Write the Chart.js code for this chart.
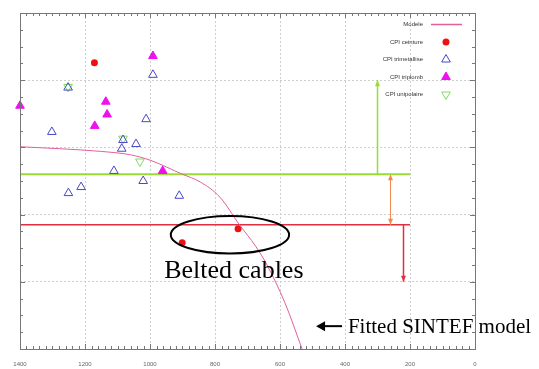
<!DOCTYPE html>
<html>
<head>
<meta charset="utf-8">
<script src="https://cdn.jsdelivr.net/npm/chart.js@4.4.1/dist/chart.umd.min.js"></script>
<style>
  html, body { margin: 0; padding: 0; background: #fff; }
  #wrap { width: 539px; height: 369px; }
</style>
</head>
<body>
<div id="wrap"><canvas id="c" width="539" height="369"></canvas></div>
<script>
// x axis runs from 1400 (left) down to 0 (right)
const xTickValues = [1400, 1200, 1000, 800, 600, 400, 200, 0];
const xTickLabels = ['1400', '1200', '1000', '800', '600', '400', '200', '0'];

// Fitted model curve
const modeleX = [1400, 1275, 1150, 1060, 1000, 900, 845, 785, 725, 675, 640, 585, 532];
const modeleY = [30.1, 29.8, 29.4, 28.9, 28.1, 26.0, 24.85, 22.6, 18.5, 15.3, 12.5, 6.9, 0];

// Measured cable types
const ceintureX = [1171, 729, 901];
const ceintureY = [42.6, 17.9, 15.8];

const trimetX = [991, 1252, 1012, 1302, 1083, 1087, 1043, 1111, 1021, 1212, 1251, 910];
const trimetY = [40.8, 38.9, 34.2, 32.3, 31.1, 29.8, 30.5, 26.5, 25.0, 24.1, 23.2, 22.8];

const triplombX = [1400, 991, 1136, 1132, 1170, 961];
const triplombY = [36.2, 43.6, 36.8, 34.9, 33.2, 26.5];

const unipolX = [1252, 1083, 1031];
const unipolY = [39.0, 31.3, 27.9];

// Threshold levels and arrows
const greenLevelX = [1400, 200];
const greenLevelY = [26.0, 26.0];
const greenArrowX = [300, 300];
const greenArrowY = [26.0, 40.0];
const orangeArrowX = [260, 260];
const orangeArrowY = [26.0, 18.5];
const redLevelX = [1400, 200];
const redLevelY = [18.5, 18.5];
const redArrowX = [220, 220];
const redArrowY = [18.5, 10.0];

// Annotation anchors (data units)
const ellipseAnchor = { x: 754, y: 17.0, rx: 182, ry: 2.8 };
const beltedText = { text: 'Belted cables', x: 742, y: 10.6 };
const sintefText = { text: 'Fitted SINTEF model', x: 391, y: 2.4 };
const sintefArrow = { x0: 409, x1: 489, y: 3.4 };

const pts = (xs, ys) => xs.map((x, i) => ({ x: x, y: ys[i] }));

const framePlugin = {
  id: 'frame',
  afterDatasetsDraw(chart) {
    const { ctx, chartArea: a, scales: { x, y } } = chart;
    ctx.save();
    ctx.strokeStyle = '#777';
    ctx.lineWidth = 1;
    ctx.beginPath();
    for (let v = 0; v <= 1400; v += 20) {
      const px = Math.round(x.getPixelForValue(v)) + 0.5;
      const len = v % 200 === 0 ? 5 : 3;
      ctx.moveTo(px, a.top); ctx.lineTo(px, a.top + len);
      ctx.moveTo(px, a.bottom); ctx.lineTo(px, a.bottom - len);
    }
    for (let v = 0; v <= 50; v += 2.5) {
      const py = Math.round(y.getPixelForValue(v)) + 0.5;
      const len = v % 10 === 0 ? 5 : 3;
      ctx.moveTo(a.left, py); ctx.lineTo(a.left + len, py);
      ctx.moveTo(a.right, py); ctx.lineTo(a.right - len, py);
    }
    ctx.stroke();
    ctx.strokeRect(Math.round(a.left) + 0.5, Math.round(a.top) + 0.5,
      Math.round(a.right - a.left), Math.round(a.bottom - a.top));
    ctx.restore();
  }
};

function arrowHead(ctx, x, y, dx, dy, len, half, color) {
  const n = Math.hypot(dx, dy) || 1;
  const ux = dx / n, uy = dy / n;
  ctx.fillStyle = color;
  ctx.beginPath();
  ctx.moveTo(x, y);
  ctx.lineTo(x - ux * len - uy * half, y - uy * len + ux * half);
  ctx.lineTo(x - ux * len + uy * half, y - uy * len - ux * half);
  ctx.closePath();
  ctx.fill();
}

const arrowPlugin = {
  id: 'arrows',
  afterDatasetsDraw(chart) {
    const ctx = chart.ctx;
    ctx.save();
    chart.data.datasets.forEach((ds, i) => {
      if (!ds.arrowEnds) return;
      const els = chart.getDatasetMeta(i).data;
      const p0 = els[0], p1 = els[els.length - 1];
      if (ds.arrowEnds.includes('end')) {
        arrowHead(ctx, p1.x, p1.y, p1.x - p0.x, p1.y - p0.y, 6, 2.5, ds.borderColor);
      }
      if (ds.arrowEnds.includes('start')) {
        arrowHead(ctx, p0.x, p0.y, p0.x - p1.x, p0.y - p1.y, 6, 2.5, ds.borderColor);
      }
    });
    ctx.restore();
  }
};

const notesPlugin = {
  id: 'notes',
  afterDraw(chart) {
    const { ctx, chartArea: a, scales: { x, y } } = chart;
    ctx.save();
    // ellipse around the belted cables
    const cx = x.getPixelForValue(ellipseAnchor.x);
    const cy = y.getPixelForValue(ellipseAnchor.y);
    const rx = Math.abs(x.getPixelForValue(ellipseAnchor.x - ellipseAnchor.rx) - cx);
    const ry = Math.abs(y.getPixelForValue(ellipseAnchor.y + ellipseAnchor.ry) - cy);
    ctx.strokeStyle = '#000';
    ctx.lineWidth = 2;
    ctx.beginPath();
    ctx.ellipse(cx, cy, rx, ry, 0, 0, Math.PI * 2);
    ctx.stroke();

    ctx.fillStyle = '#000';
    ctx.textBaseline = 'alphabetic';
    ctx.font = '26px "Liberation Serif", "Times New Roman", serif';
    ctx.textAlign = 'center';
    ctx.fillText(beltedText.text, x.getPixelForValue(beltedText.x), y.getPixelForValue(beltedText.y));

    ctx.font = '21px "Liberation Serif", "Times New Roman", serif';
    ctx.textAlign = 'left';
    ctx.fillText(sintefText.text, x.getPixelForValue(sintefText.x), y.getPixelForValue(sintefText.y));

    const ax0 = x.getPixelForValue(sintefArrow.x0);
    const ax1 = x.getPixelForValue(sintefArrow.x1);
    const ay = y.getPixelForValue(sintefArrow.y);
    ctx.strokeStyle = '#000';
    ctx.lineWidth = 2;
    ctx.beginPath();
    ctx.moveTo(ax0, ay); ctx.lineTo(ax1 + 6, ay);
    ctx.stroke();
    arrowHead(ctx, ax1, ay, ax1 - ax0, 0, 9, 5, '#000');

    // legend in the upper right corner of the plot
    const rows = chart.data.datasets.filter(d => d.inLegend);
    ctx.font = '6px "Liberation Sans", Arial, sans-serif';
    ctx.textAlign = 'right';
    ctx.textBaseline = 'middle';
    rows.forEach((d, k) => {
      const ry0 = a.top + 11.5 + k * 17.5;
      ctx.fillStyle = '#333';
      ctx.fillText(d.label, a.right - 52, ry0);
      const sx = a.right - 29;
      if (d.legendLine) {
        ctx.strokeStyle = d.borderColor;
        ctx.lineWidth = 1.5;
        ctx.beginPath();
        ctx.moveTo(a.right - 44, ry0); ctx.lineTo(a.right - 13, ry0);
        ctx.stroke();
      } else {
        ctx.save();
        ctx.fillStyle = d.pointBackgroundColor;
        ctx.strokeStyle = d.pointBorderColor;
        ctx.lineWidth = d.pointBorderWidth;
        Chart.helpers.drawPoint(ctx, {
          pointStyle: d.pointStyle,
          rotation: d.pointRotation || 0,
          radius: d.pointRadius,
          borderWidth: d.pointBorderWidth
        }, sx, ry0);
        ctx.restore();
      }
    });
    ctx.restore();
  }
};

new Chart(document.getElementById('c'), {
  type: 'scatter',
  data: {
    datasets: [
      {
        label: 'Modele', type: 'line', inLegend: true, legendLine: true,
        data: pts(modeleX, modeleY), borderColor: '#e0609f', borderWidth: 1,
        pointRadius: 0, showLine: true, cubicInterpolationMode: 'monotone', fill: false
      },
      {
        label: 'CPI ceinture', inLegend: true, data: pts(ceintureX, ceintureY),
        pointStyle: 'circle', pointRadius: 3.5, pointBorderWidth: 0,
        pointBackgroundColor: '#ee1111', pointBorderColor: '#ee1111', clip: false
      },
      {
        label: 'CPI trimetallise', inLegend: true, data: pts(trimetX, trimetY),
        pointStyle: 'triangle', pointRadius: 5, pointBorderWidth: 1,
        pointBackgroundColor: 'rgba(0,0,0,0)', pointBorderColor: '#4848c8', clip: false
      },
      {
        label: 'CPI triplomb', inLegend: true, data: pts(triplombX, triplombY),
        pointStyle: 'triangle', pointRadius: 5, pointBorderWidth: 1,
        pointBackgroundColor: '#ee10ee', pointBorderColor: '#ee10ee', clip: false
      },
      {
        label: 'CPI unipolaire', inLegend: true, data: pts(unipolX, unipolY),
        pointStyle: 'triangle', pointRotation: 180, pointRadius: 5, pointBorderWidth: 1,
        pointBackgroundColor: 'rgba(0,0,0,0)', pointBorderColor: '#80dd60', clip: false
      },
      {
        label: 'green level', type: 'line', data: pts(greenLevelX, greenLevelY),
        borderColor: '#99dd33', borderWidth: 2, pointRadius: 0, showLine: true
      },
      {
        label: 'green arrow', type: 'line', data: pts(greenArrowX, greenArrowY), arrowEnds: ['end'],
        borderColor: '#99dd33', borderWidth: 1.5, pointRadius: 0, showLine: true, clip: false
      },
      {
        label: 'orange arrow', type: 'line', data: pts(orangeArrowX, orangeArrowY), arrowEnds: ['start', 'end'],
        borderColor: '#f08a50', borderWidth: 1, pointRadius: 0, showLine: true
      },
      {
        label: 'red level', type: 'line', data: pts(redLevelX, redLevelY),
        borderColor: '#e03040', borderWidth: 1.5, pointRadius: 0, showLine: true
      },
      {
        label: 'red arrow', type: 'line', data: pts(redArrowX, redArrowY), arrowEnds: ['end'],
        borderColor: '#e03040', borderWidth: 1.5, pointRadius: 0, showLine: true
      }
    ]
  },
  options: {
    responsive: false,
    animation: false,
    devicePixelRatio: 1,
    layout: { padding: { left: 20, right: 64, top: 13, bottom: 0 } },
    plugins: { legend: { display: false }, tooltip: { enabled: false } },
    scales: {
      x: {
        type: 'linear', reverse: true, min: 0, max: 1400,
        grid: { color: '#cfcfcf', lineWidth: 1, drawTicks: false },
        border: { display: false, dash: [2, 2] },
        afterFit: scale => { scale.height = 20; },
        ticks: {
          stepSize: 200, padding: 12, maxRotation: 0, autoSkip: false,
          color: '#666', font: { size: 6, family: '"Liberation Sans", Arial, sans-serif' },
          callback: v => xTickLabels[xTickValues.indexOf(v)]
        }
      },
      y: {
        type: 'linear', min: 0, max: 50,
        grid: { color: '#cfcfcf', lineWidth: 1, drawTicks: false },
        border: { display: false, dash: [2, 2] },
        ticks: { stepSize: 10, display: false }
      }
    }
  },
  plugins: [framePlugin, arrowPlugin, notesPlugin]
});
</script>
</body>
</html>
